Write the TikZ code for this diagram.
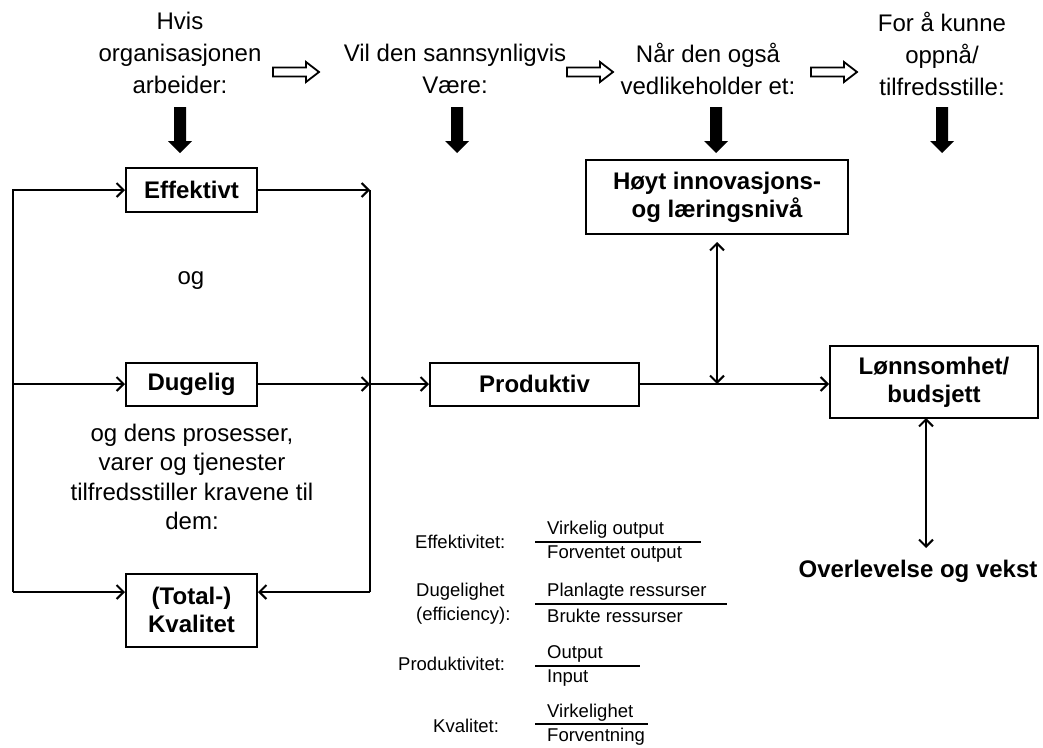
\documentclass[tikz,border=0pt]{standalone}
\usepackage{fontspec}
\setmainfont{Liberation Sans}
\usetikzlibrary{arrows.meta}
\begin{document}
\begin{tikzpicture}[x=1pt,y=-1pt,
  txt/.style={font=\fontsize{24}{32}\selectfont, align=center, inner sep=0pt},
  box/.style={draw, line width=2pt, font=\bfseries\fontsize{24}{28}\selectfont, align=center, inner sep=0pt},
  ftxt/.style={font=\fontsize{18.5}{24}\selectfont, inner sep=0pt, anchor=west, align=left},
  fline/.style={line width=1.3pt},
  ln/.style={line width=2pt},
  arr/.style={line width=2pt, -{Straight Barb[length=7pt,width=14pt,line width=2pt]}},
  darr/.style={line width=2pt, {Straight Barb[length=7pt,width=14pt,line width=2pt]}-{Straight Barb[length=7pt,width=14pt,line width=2pt]}},
  blk/.pic={\fill (-6,0) -- (6,0) -- (6,34) -- (12,34) -- (0,46) -- (-12,34) -- (-6,34) -- cycle;},
  hol/.pic={\draw[line width=1.8pt, fill=white, line join=miter] (0,-4.5) -- (33,-4.5) -- (33,-10) -- (46,0) -- (33,10) -- (33,4.5) -- (0,4.5) -- cycle;}
]
\useasboundingbox (0,0) rectangle (1043,747);

% top texts
\node[txt] (t1) at (180,53) {Hvis\\organisasjonen\\arbeider:};
\node[txt] (t2) at (455,69) {Vil den sannsynligvis\\Være:};
\node[txt] (t3) at (708,69) {Når den også\\vedlikeholder et:};
\node[txt] (t4) at (942,54) {For å kunne\\oppnå/\\tilfredsstille:};

% hollow arrows
\pic at (273,72) {hol};
\pic at (567,72) {hol};
\pic at (811,72) {hol};

% black down arrows
\pic at (180,107) {blk};
\pic at (457,107) {blk};
\pic at (716,107) {blk};
\pic at (942,107) {blk};

% boxes
\node[box, minimum width=131, minimum height=44] (eff) at (191.5,190) {Effektivt};
\node[box, minimum width=131, minimum height=43] (dug) at (191.5,384) {Dugelig};
\node[box, minimum width=131, minimum height=73] (kv) at (191.5,610) {(Total-)\\Kvalitet};
\node[box, minimum width=209, minimum height=43] (prod) at (534.5,384) {Produktiv};
\node[box, minimum width=262, minimum height=74] (hoy) at (717,197) {Høyt innovasjons-\\og læringsnivå};
\node[box, minimum width=208, minimum height=72] (lon) at (934,382) {Lønnsomhet/\\budsjett};

\node[txt] (og) at (191,281) {og};
\node[txt, font=\fontsize{24}{29.5}\selectfont] (ogd) at (192,477) {og dens prosesser,\\varer og tjenester\\tilfredsstiller kravene til\\dem:};
\node[txt, font=\bfseries\fontsize{24}{28}\selectfont] (ov) at (918,571) {Overlevelse og vekst};

% connector coordinates
\coordinate (L1) at (13,190);
\coordinate (L2) at (13,384);
\coordinate (L3) at (13,592);
\coordinate (R1) at (370,190);
\coordinate (R2) at (370,384);
\coordinate (R3) at (370,592);
\coordinate (KL) at (kv.west |- L3);
\coordinate (KR) at (kv.east |- R3);
\coordinate (J) at (717,384);
\coordinate (H1) at (717,242);
\coordinate (LB) at (926,418);
\coordinate (O1) at (926,548);

% left side
\draw[arr] (L3) |- (eff.west);
\draw[arr] (L2) -- (dug.west);
\draw[arr] (L3) -- (KL);
% right side
\draw[arr] (eff.east) -- (R1);
\draw[arr] (dug.east) -- (R2);
\draw[ln] (R1) -- (R3);
\draw[arr] (R3) -- (KR);
\draw[arr] (R2) -- (prod.west);
% right part
\draw[arr] (prod.east) -- (prod.east -| lon.west);
\draw[darr] (H1) -- (J);
\draw[darr] (LB) -- (O1);

% formulas
\node[ftxt] (fe) at (415,542) {Effektivitet:};
\draw[fline] (535,542) -- (701,542);
\node[ftxt] (fen) at (547,530) {Virkelig output};
\node[ftxt] (fed) at (547,554) {Forventet output};

\node[ftxt, font=\fontsize{18.5}{24}\selectfont] (fd) at (416,604) {Dugelighet\\(efficiency):};
\draw[fline] (535,604) -- (727,604);
\node[ftxt] (fdn) at (547,592) {Planlagte ressurser};
\node[ftxt] (fdd) at (547,616) {Brukte ressurser};

\node[ftxt] (fp) at (398,664) {Produktivitet:};
\draw[fline] (535,666) -- (640,666);
\node[ftxt] (fpn) at (547,654) {Output};
\node[ftxt] (fpd) at (547,678) {Input};

\node[ftxt] (fk) at (433,726) {Kvalitet:};
\draw[fline] (535,724) -- (648,724);
\node[ftxt] (fkn) at (547,713) {Virkelighet};
\node[ftxt] (fkd) at (547,737) {Forventning};
\end{tikzpicture}
\end{document}
